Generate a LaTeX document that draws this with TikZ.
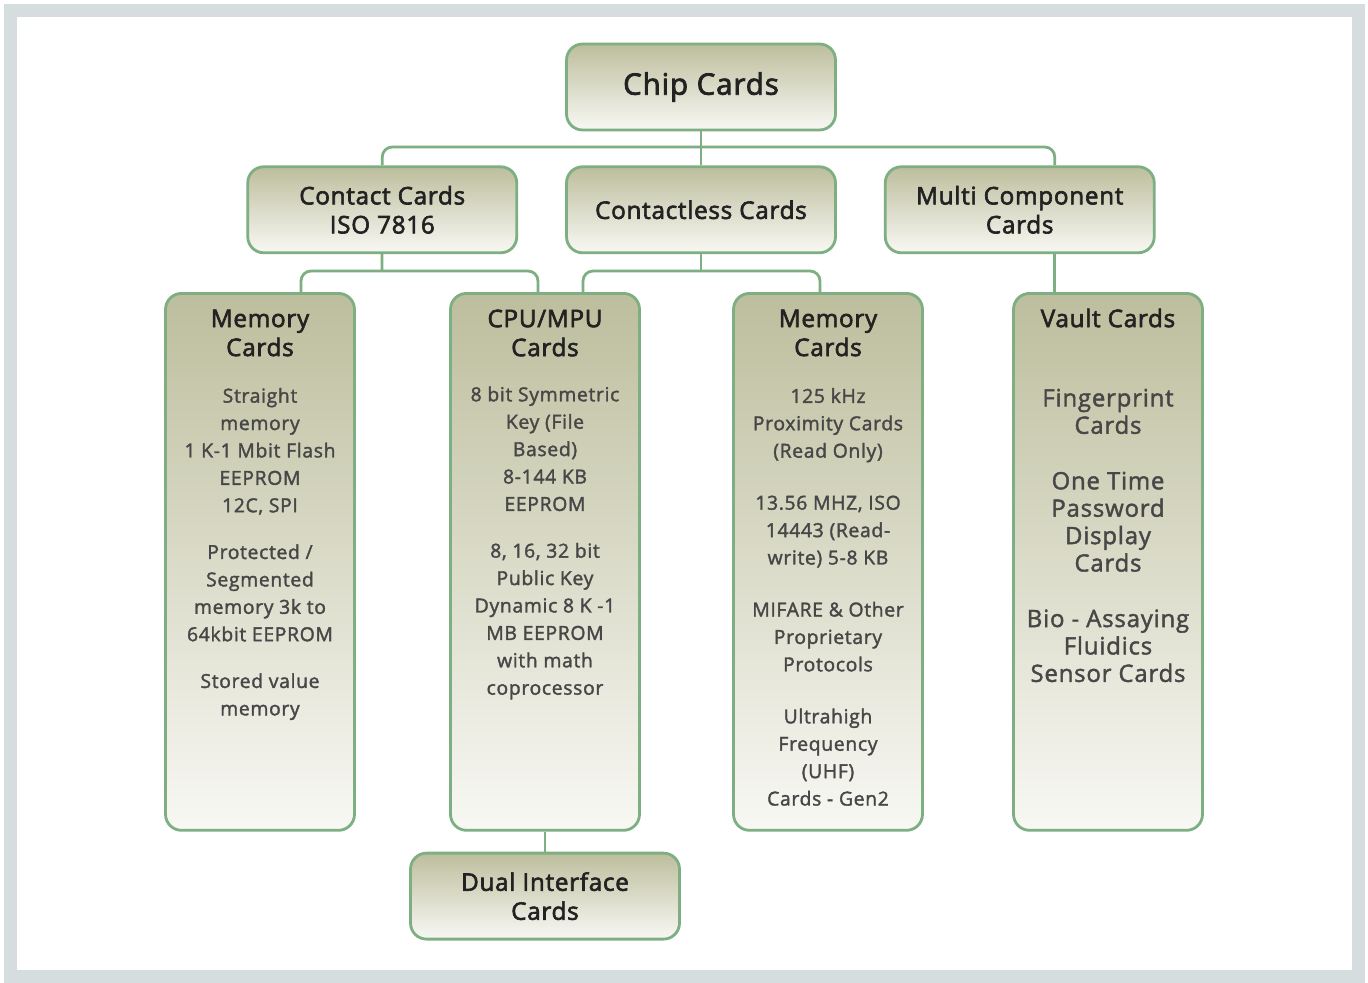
\documentclass[tikz,border=0pt]{standalone}
\usepackage{fontspec}
\setmainfont{Open Sans}
\newfontfamily\headfont{Open Sans}[FakeBold=2.6,LetterSpace=3]
\newfontfamily\bodyfont{Open Sans}[FakeBold=1.8,LetterSpace=3.5]
\usetikzlibrary{positioning}
\definecolor{framegrey}{HTML}{D5DDDF}
\definecolor{boxline}{HTML}{7DAF82}
\definecolor{boxtop}{HTML}{BDBE9D}
\definecolor{boxbot}{HTML}{F8F8F4}
\definecolor{titletext}{HTML}{222222}
\definecolor{bodytext}{HTML}{474747}

\begin{document}
\begin{tikzpicture}[x=0.02cm, y=-0.02cm, node distance=0.68cm,
                    card/.style={draw=boxline,line width=1.6pt,rounded corners=0.32cm,
                                 top color=boxtop,bottom color=boxbot,
                                 minimum width=5.38cm,minimum height=1.72cm,align=center,
                                 text=titletext,font=\headfont\fontsize{13.8}{16.5}\selectfont},
                    column/.style={draw=boxline,line width=1.6pt,rounded corners=0.32cm,
                                   top color=boxtop,bottom color=boxbot,
                                   minimum width=3.78cm,minimum height=10.74cm},
                    col title/.style={align=center,text=titletext,font=\headfont\fontsize{13.8}{16.5}\selectfont},
                    col body/.style={align=center,text=bodytext,font=\bodyfont\fontsize{11}{15.6}\selectfont},
                    link/.style={draw=boxline,line width=1.6pt,rounded corners=0.2cm}]

  \fill[white] (0,0) rectangle (1368,982);
  \draw[framegrey,line width=0.26cm] (10.5,10.5) rectangle (1358.5,976);

  \node[card,font=\headfont\fontsize{16.8}{19}\selectfont] (chip) at (701,87) {Chip Cards};
  \node[card] (contactless) [below=of chip] {Contactless Cards};
  \node[card] (contact) [left=0.94cm of contactless] {Contact Cards\\ISO 7816};
  \node[card] (multi) [right=0.94cm of contactless] {Multi Component\\Cards};

  \node[column,anchor=north] (mem) at (260,292) {};
  \node[column,anchor=north] (cpu) at (545,292) {};
  \node[column,anchor=north] (rfmem) at (828,292) {};
  \node[column,anchor=north] (vault) at (1108,292) {};

  \node[card] (dual) [below=0.4cm of cpu] {Dual Interface\\Cards};

  \node[col title] at ([yshift=-0.82cm]mem.north) {Memory\\Cards};
  \node[col title] at ([yshift=-0.82cm]cpu.north) {CPU/MPU\\Cards};
  \node[col title] at ([yshift=-0.82cm]rfmem.north) {Memory\\Cards};
  \node[col title] at ([yshift=-0.52cm]vault.north) {Vault Cards};

  \node[col body] at ([yshift=-5.24cm]mem.north)
    {Straight\\memory\\1 K-1 Mbit Flash\\EEPROM\\12C, SPI\\[11pt]
     Protected /\\Segmented\\memory 3k to\\64kbit EEPROM\\[11pt]
     Stored value\\memory};
  \node[col body] at ([yshift=-5.02cm]cpu.north)
    {8 bit Symmetric\\Key (File\\Based)\\8-144 KB\\EEPROM\\[11pt]
     8, 16, 32 bit\\Public Key\\Dynamic 8 K -1\\MB EEPROM\\with math\\coprocessor};
  \node[col body] at ([yshift=-6.10cm]rfmem.north)
    {125 kHz\\Proximity Cards\\(Read Only)\\[14pt]
     13.56 MHZ, ISO\\14443 (Read-\\write) 5-8 KB\\[14pt]
     MIFARE \& Other\\Proprietary\\Protocols\\[14pt]
     Ultrahigh\\Frequency\\(UHF)\\Cards - Gen2};
  \node[col body,font=\bodyfont\fontsize{13.6}{15.6}\selectfont] at ([yshift=-4.87cm]vault.north)
    {Fingerprint\\Cards\\[16pt]
     One Time\\Password\\Display\\Cards\\[16pt]
     Bio - Assaying\\Fluidics\\Sensor Cards};

  \coordinate (top bus) at (701,147);
  \coordinate (contact bus) at (382,271);
  \coordinate (contactless bus) at (701,271);

  \path[link]
    (chip) edge (contactless)
    (contact) edge (contact bus)
    (contactless) edge (contactless bus)
    (cpu) edge (dual);

  \draw[link] (contact.north) |- (top bus) -| ([xshift=0.7cm]multi.north);
  \draw[link] ([xshift=0.82cm]mem.north) |- (contact bus) -| ([xshift=-0.14cm]cpu.north);
  \draw[link] ([xshift=0.76cm]cpu.north) |- (contactless bus) -| ([xshift=-0.16cm]rfmem.north);
  \draw[link] ([xshift=0.7cm]multi.south) -- ([xshift=0.7cm]multi.south |- vault.north);

\end{tikzpicture}
\end{document}
